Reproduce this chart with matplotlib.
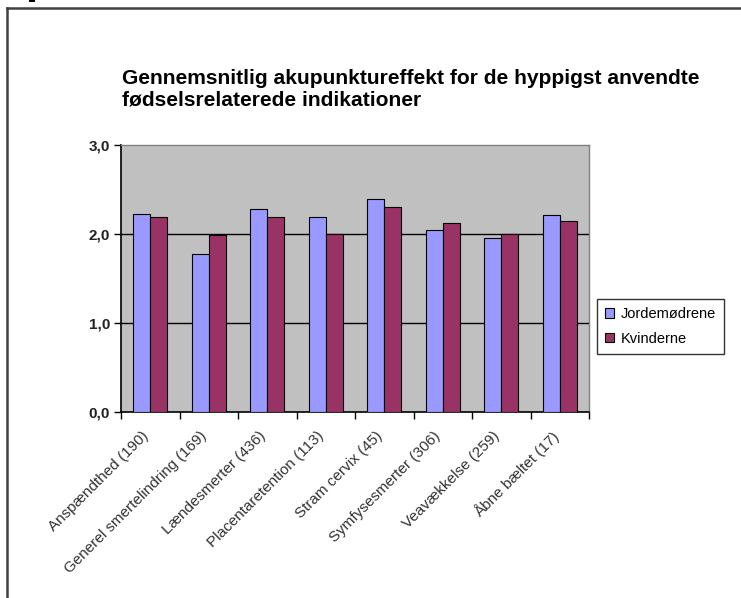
import numpy as np
import matplotlib
matplotlib.use("Agg")
import matplotlib.pyplot as plt
import matplotlib.transforms as mtransforms
from matplotlib.patches import Patch, Rectangle
from matplotlib.lines import Line2D

# Data
categories = [
    "Anspændthed (190)",
    "Generel smertelindring (169)",
    "Lændesmerter (436)",
    "Placentaretention (113)",
    "Stram cervix (45)",
    "Symfysesmerter (306)",
    "Veavækkelse (259)",
    "Åbne bæltet (17)",
]
jordemoedrene = [2.23, 1.78, 2.28, 2.19, 2.39, 2.05, 1.96, 2.21]
kvinderne = [2.19, 1.99, 2.19, 2.00, 2.30, 2.12, 2.00, 2.15]
series_names = ["Jordemødrene", "Kvinderne"]
y_ticks = [0, 1, 2, 3]
y_tick_labels = ["0,0", "1,0", "2,0", "3,0"]
title = "Gennemsnitlig akupunktureffekt for de hyppigst anvendte\nfødselsrelaterede indikationer"

plt.rcParams["font.family"] = ["Liberation Sans", "DejaVu Sans"]

W, H = 741, 598
fig = plt.figure(figsize=(W / 100, H / 100), dpi=100)
fig.patch.set_facecolor("white")

# Outer chart frame (top and left edges)
fig.add_artist(Line2D([7 / W, 1.0], [1 - 8 / H, 1 - 8 / H], color="#404040", lw=1.8,
                      transform=fig.transFigure))
fig.add_artist(Line2D([7 / W, 7 / W], [0.0, 1 - 8 / H], color="#404040", lw=1.8,
                      transform=fig.transFigure))
fig.add_artist(Rectangle((29 / W, 1 - 2 / H), 6 / W, 2 / H, facecolor="black",
                         edgecolor="none", transform=fig.transFigure))

left, right, top, bottom = 121, 589, 145, 412
ax = fig.add_axes([left / W, 1 - bottom / H, (right - left) / W, (bottom - top) / H])
ax.set_facecolor("#C0C0C0")

n = len(categories)
x = np.arange(n)
bw = 0.29
ax.bar(x - bw / 2, jordemoedrene, bw, color="#9999FF", edgecolor="black", linewidth=0.8,
       zorder=3, label=series_names[0])
ax.bar(x + bw / 2, kvinderne, bw, color="#993366", edgecolor="black", linewidth=0.8,
       zorder=3, label=series_names[1])

ax.set_xlim(-0.5, n - 0.5)
ax.set_ylim(0, 3)

# Gridlines
for v in y_ticks[1:-1]:
    ax.axhline(v, color="black", lw=1.0, zorder=1)

# Axes spines
for s in ["top", "right"]:
    ax.spines[s].set_color("#808080")
    ax.spines[s].set_linewidth(1.0)
ax.spines["left"].set_color("black")
ax.spines["bottom"].set_color("black")
ax.spines["left"].set_linewidth(1.2)
ax.spines["bottom"].set_linewidth(1.2)

ax.set_yticks(y_ticks)
ax.set_yticklabels(y_tick_labels, fontsize=11, fontweight="bold", color="#222222")
ax.tick_params(axis="y", direction="out", length=5, width=1.0, pad=3)

# Category boundary ticks and centred labels
ax.set_xticks(np.arange(n + 1) - 0.5)
ax.set_xticklabels([])
ax.tick_params(axis="x", which="major", direction="out", length=5, width=1.0)
ax.set_xticks(x, minor=True)
ax.set_xticklabels(categories, minor=True, rotation=45, ha="right",
                   rotation_mode="anchor", fontsize=11, color="#333333")
ax.tick_params(axis="x", which="minor", length=0, pad=12)
shift = mtransforms.ScaledTranslation(-9 / 100, 0, fig.dpi_scale_trans)
for lbl in ax.get_xticklabels(minor=True):
    lbl.set_transform(lbl.get_transform() + shift)

fig.text(122 / W, 1 - 69 / H, title, ha="left", va="top", fontsize=15.1,
         fontweight="bold", linespacing=1.2)

handles = [
    Patch(facecolor="#9999FF", edgecolor="black", linewidth=0.8),
    Patch(facecolor="#993366", edgecolor="black", linewidth=0.8),
]
leg = fig.legend(handles, series_names, loc="upper left",
                 bbox_to_anchor=(597 / W, 1 - 299 / H), frameon=True, fancybox=False,
                 edgecolor="black", fontsize=10.5, handlelength=0.6, handleheight=0.6,
                 handletextpad=0.5, borderpad=0.55, labelspacing=0.75, borderaxespad=0)
leg.get_frame().set_linewidth(1.0)

fig.savefig("out.png", dpi=100)
